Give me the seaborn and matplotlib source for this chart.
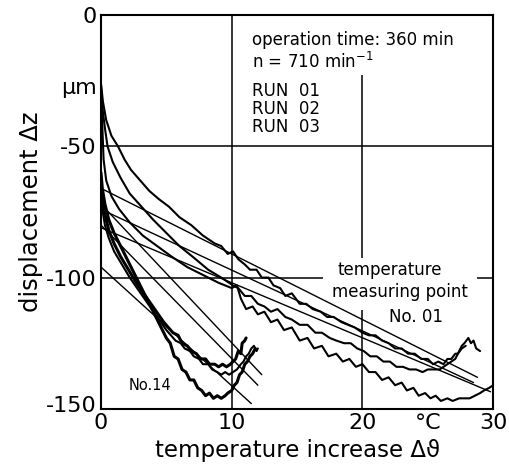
import matplotlib
matplotlib.use("Agg")
import matplotlib.pyplot as plt
import matplotlib.transforms as mtransforms
import pandas as pd
import seaborn as sns

# measured curves, measuring point No.01 (three runs)
a_x = [0, 0.15, 0.4, 0.8, 1.3, 1.8, 2.3, 3.0, 3.7, 4.4, 5.2, 6.0, 6.9, 7.8, 8.7, 9.2, 9.7, 10.1, 10.5, 11.0,
       11.4, 11.9, 12.3, 12.8, 13.2, 13.7, 14.1, 14.6, 15.2, 15.7, 16.2, 16.8, 17.3, 17.8, 18.4, 18.9, 19.4, 20.0,
       20.5, 21.0, 21.5, 22.0, 22.5, 23.0, 23.5, 24.0, 24.5, 25.0, 25.4, 25.8, 26.2, 26.5, 26.8, 27.1, 27.3, 27.6,
       27.8, 28.1, 28.3, 28.5, 28.7, 29.0]
a_y = [-26, -33, -40, -46, -50, -55, -59, -63, -67, -70, -73, -77, -80, -84, -87, -88, -91, -90, -93, -95,
       -97, -97, -100, -100, -103, -104, -107, -106, -110, -110, -112, -113, -115, -115, -117, -118, -119, -121,
       -122, -122, -124, -125, -127, -127, -129, -129, -131, -131, -133, -132, -133, -131, -131, -129, -129, -126,
       -125, -123, -125, -124, -127, -128]
b_x = [0, 0.1, 0.3, 0.5, 0.9, 1.5, 2.2, 3.1, 4.0, 5.0, 6.0, 7.0, 8.2, 9.2, 10.1, 10.5, 11.0, 11.5, 12.0, 12.5,
       13.0, 13.5, 14.1, 14.6, 15.2, 15.8, 16.4, 16.9, 17.5, 18.0, 18.6, 19.1, 19.6, 20.1, 20.6, 21.1, 21.6, 22.1,
       22.6, 23.1, 23.6, 24.1, 24.6, 25.0, 25.5, 25.9, 26.2, 26.5, 26.8, 27.1, 27.3, 27.6, 27.9]
b_y = [-27, -35, -43, -50, -56, -62, -68, -73, -78, -83, -88, -92, -97, -100, -103, -104, -107, -107, -110, -111,
       -113, -112, -115, -116, -118, -118, -121, -121, -123, -124, -125, -125, -127, -128, -130, -130, -132, -132,
       -134, -134, -135, -135, -136, -135, -135, -135, -134, -133, -132, -131, -129, -127, -126]
c_x = [0, 0.1, 0.2, 0.4, 0.8, 1.4, 2.2, 3.2, 4.3, 5.4, 6.6, 7.8, 9.0, 10.0, 10.4, 10.7, 11.1, 11.6, 12.0, 12.5,
       13.0, 13.5, 14.0, 14.6, 15.2, 15.8, 16.3, 16.9, 17.4, 18.0, 18.5, 19.0, 19.5, 20.0, 20.5, 21.0, 21.5, 22.0,
       22.5, 23.0, 23.4, 23.9, 24.3, 24.8, 25.2, 25.6, 26.0, 26.5, 26.9, 27.4, 27.8, 28.2, 28.6, 29.0, 29.3, 29.7, 30.0]
c_y = [-28, -42, -55, -63, -69, -74, -79, -84, -88, -92, -96, -99, -102, -104, -103, -108, -112, -111, -114, -113,
       -117, -116, -120, -119, -124, -123, -127, -126, -130, -129, -132, -131, -134, -133, -136, -136, -139, -138,
       -141, -140, -143, -142, -145, -144, -146, -145, -147, -146, -147, -146, -146, -146, -145, -144, -143, -142, -141]

# measured curves, measuring point No.14 (three runs)
d_x = [0, 0.1, 0.3, 0.6, 1.0, 1.5, 2.0, 2.6, 3.2, 3.8, 4.4, 5.0, 5.3, 5.6, 5.9, 6.2, 6.5, 6.8, 7.1, 7.4, 7.7, 8.0,
       8.3, 8.6, 8.9, 9.2, 9.5, 9.7, 10.0, 10.2, 10.4, 10.6, 10.8, 11.0, 11.2, 11.4, 11.6, 11.8]
d_y = [-60, -66, -72, -78, -83, -88, -93, -99, -105, -111, -117, -123, -125, -130, -131, -135, -136, -139, -139,
       -142, -143, -145, -144, -146, -145, -146, -145, -144, -143, -141, -140, -137, -136, -133, -132, -130, -129, -127]
e_x = [0, 0.1, 0.3, 0.6, 1.0, 1.5, 2.1, 2.7, 3.4, 4.1, 4.8, 5.5, 5.9, 6.2, 6.6, 6.9, 7.3, 7.6, 8.0, 8.3, 8.7, 9.0,
       9.3, 9.6, 9.9, 10.1, 10.3, 10.5, 10.7, 10.8, 11.0, 11.1]
e_y = [-64, -70, -76, -82, -87, -92, -97, -102, -107, -112, -117, -121, -122, -125, -126, -128, -129, -131, -131,
       -133, -133, -134, -133, -134, -133, -132, -131, -128, -129, -125, -124, -123]
f_x = [0, 0.1, 0.3, 0.6, 1.0, 1.6, 2.2, 2.9, 3.6, 4.3, 5.0, 5.7, 6.1, 6.4, 6.8, 7.1, 7.5, 7.8, 8.2, 8.5, 8.9, 9.2,
       9.5, 9.8, 10.1, 10.4, 10.7, 10.9, 11.1, 11.3, 11.5, 11.7, 11.9, 12.0]
f_y = [-68, -74, -80, -85, -90, -95, -100, -105, -110, -115, -120, -124, -125, -127, -128, -130, -131, -133, -133,
       -135, -136, -137, -136, -137, -136, -135, -133, -132, -130, -129, -127, -126, -128, -127]

# fitted straight lines (start / end points)
fit_x = {"R1": [0, 28.8], "R2": [0, 28.5], "R3": [0, 29.8],
         "S1": [0, 12.3], "S2": [0, 12.0], "S3": [0, 11.5]}
fit_y = {"R1": [-66, -138], "R2": [-74, -140], "R3": [-81, -143.5],
         "S1": [-72, -137], "S2": [-80, -141], "S3": [-96, -148]}

x_ticks = [0, 10, 20, 25, 30]
x_ticklabels = ["0", "10", "20", "°C", "30"]
y_ticks = [0, -27, -50, -100, -150]
y_ticklabels = ["0", "µm", "-50", "-100", "-150"]

curves = pd.concat([pd.DataFrame({"x": xs, "y": ys, "curve": name})
                    for name, xs, ys in [("A", a_x, a_y), ("B", b_x, b_y), ("C", c_x, c_y),
                                         ("D", d_x, d_y), ("E", e_x, e_y), ("F", f_x, f_y)]],
                   ignore_index=True)
fits = pd.concat([pd.DataFrame({"x": fit_x[k], "y": fit_y[k], "curve": k}) for k in fit_x], ignore_index=True)

sns.set_style("white")
plt.rcParams["font.family"] = ["DejaVu Sans"]
plt.rcParams["text.color"] = "black"
plt.rcParams["axes.labelcolor"] = "black"
plt.rcParams["xtick.color"] = "black"
plt.rcParams["ytick.color"] = "black"

fig = plt.figure(figsize=(5.1, 4.71), dpi=100)
ax = fig.add_axes([0.198, 0.132, 0.769, 0.836])

# grid lines of the original sheet (interrupted where text sits)
gl = dict(color="black", lw=1.1, zorder=1)
ax.axvline(10, **gl)
ax.vlines(20, -150, -112.5, **gl)
ax.vlines(20, -92.5, -23, **gl)
ax.axhline(-50, **gl)
ax.hlines(-100, 0, 17, **gl)
ax.hlines(-100, 28.8, 30, **gl)

sns.lineplot(data=fits, x="x", y="y", units="curve", estimator=None, sort=False,
             color="black", lw=1.0, ax=ax, legend=False)
thin = curves[curves["curve"].isin(["A", "B", "C", "F"])]
thick = curves[curves["curve"].isin(["D", "E"])]
sns.lineplot(data=thin, x="x", y="y", units="curve", estimator=None, sort=False,
             color="black", lw=1.5, ax=ax, legend=False)
sns.lineplot(data=thick, x="x", y="y", units="curve", estimator=None, sort=False,
             color="black", lw=2.2, ax=ax, legend=False)

ax.set_xlim(0, 30)
ax.set_ylim(-150, 0)
ax.set_xticks(x_ticks)
ax.set_xticklabels(x_ticklabels, fontsize=16)
ax.set_yticks(y_ticks)
ax.set_yticklabels(y_ticklabels, fontsize=16)
ax.tick_params(length=0)
ax.tick_params(axis="y", pad=3)
ax.tick_params(axis="x", pad=3)
# lift the lowest y label a little, as in the original
lab = ax.get_yticklabels()[-1]
lab.set_transform(lab.get_transform() + mtransforms.ScaledTranslation(0, 5 / 100, fig.dpi_scale_trans))
for s in ax.spines.values():
    s.set_color("black")
    s.set_linewidth(1.5)

ax.set_xlabel("temperature increase Δϑ", fontsize=16.5, labelpad=4)
ax.set_ylabel("displacement Δz", fontsize=17.5, labelpad=2)

fs = 12
ax.text(11.55, -9.5, "operation time: 360 min", fontsize=fs, va="center", ha="left")
ax.text(11.55, -17.9, "n = 710 min$^{-1}$", fontsize=fs, va="center", ha="left")
ax.text(11.55, -28.9, "RUN  01", fontsize=fs, va="center", ha="left")
ax.text(11.55, -35.8, "RUN  02", fontsize=fs, va="center", ha="left")
ax.text(11.55, -42.6, "RUN  03", fontsize=fs, va="center", ha="left")
ax.text(22.1, -97.1, "temperature", fontsize=fs, va="center", ha="center")
ax.text(22.9, -105.4, "measuring point", fontsize=fs, va="center", ha="center")
ax.text(24.1, -115, "No. 01", fontsize=fs, va="center", ha="center")
ax.text(3.75, -141.2, "No.14", fontsize=10.5, va="center", ha="center")

fig.savefig("out.png", dpi=100, facecolor="white")
